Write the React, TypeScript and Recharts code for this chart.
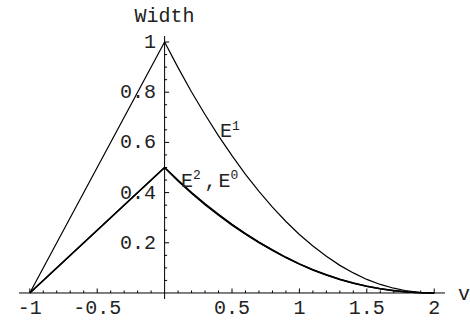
import React from 'react';
import { LineChart, Line, XAxis, YAxis, ReferenceLine, ReferenceDot } from 'recharts';

// sample points along v
const vValues = [-1, 0, 0.1, 0.2, 0.3, 0.4, 0.5, 0.6, 0.7, 0.8, 0.9, 1.0, 1.1, 1.2, 1.3, 1.4, 1.5, 1.6, 1.7, 1.8, 1.9, 2.0];

const e1Values = [0, 1, 0.898, 0.801, 0.711, 0.626, 0.547, 0.473, 0.405, 0.342, 0.285, 0.233, 0.187, 0.146, 0.11, 0.08, 0.054, 0.034, 0.019, 0.008, 0.002, 0];
const e2Values = [0, 0.5, 0.449, 0.4, 0.355, 0.313, 0.273, 0.236, 0.202, 0.171, 0.142, 0.116, 0.093, 0.073, 0.055, 0.04, 0.027, 0.017, 0.01, 0.004, 0.001, 0];
const e0Values = [0, 0.5, 0.447, 0.398, 0.352, 0.31, 0.271, 0.235, 0.201, 0.17, 0.141, 0.115, 0.092, 0.072, 0.054, 0.039, 0.027, 0.017, 0.009, 0.004, 0.001, 0];

const xTickLabels = ['-1', '-0.5', '0.5', '1', '1.5', '2'];
const yTickLabels = ['0.2', '0.4', '0.6', '0.8', '1'];

const data = vValues.map((v, i) => ({ v, e1: e1Values[i], e2: e2Values[i], e0: e0Values[i] }));

const xMinor = Array.from({ length: 31 }, (_, i) => Math.round((-1 + i / 10) * 10) / 10).filter(t => t !== 0);
const yMinor = Array.from({ length: 20 }, (_, i) => Math.round((i + 1) * 5) / 100);

const font = "'Liberation Mono', 'Courier New', monospace";
const textColor = '#222';

const isMajor = (t: number, labels: string[]) => labels.some(l => Number(l) === t);

const XTick = ({ cx, cy, value }: any) => {
  const major = isMajor(value, xTickLabels);
  const text = xTickLabels.find(l => Number(l) === value);
  return (
    <g>
      <line x1={cx} y1={cy} x2={cx} y2={cy - (major ? 4.5 : 2.5)} stroke="#000" strokeWidth={1} />
      {text && (
        <text x={cx} y={cy + 21} textAnchor="middle" fontFamily={font} fontSize={20} fill={textColor}>
          {text}
        </text>
      )}
    </g>
  );
};

const YTick = ({ cx, cy, value }: any) => {
  const major = isMajor(value, yTickLabels);
  const text = yTickLabels.find(l => Number(l) === value);
  return (
    <g>
      <line x1={cx} y1={cy} x2={cx + (major ? 4.5 : 2.5)} y2={cy} stroke="#000" strokeWidth={1} />
      {text && (
        <text x={cx - 8.5} y={cy + 6} textAnchor="end" fontFamily={font} fontSize={20} fill={textColor}>
          {text}
        </text>
      )}
    </g>
  );
};

const E1Label = ({ cx, cy }: any) => (
  <text x={cx} y={cy} fontFamily={font} fontSize={20} fill={textColor}>
    <tspan>E</tspan>
    <tspan dy={-7.5} fontSize={13}>1</tspan>
  </text>
);

const E20Label = ({ cx, cy }: any) => (
  <g fontFamily={font} fill={textColor}>
    <text x={cx} y={cy} fontSize={20}>E</text>
    <text x={cx + 12} y={cy - 7.5} fontSize={13}>2</text>
    <text x={cx + 23.5} y={cy} fontSize={20}>,</text>
    <text x={cx + 37.5} y={cy} fontSize={20}>E</text>
    <text x={cx + 49.5} y={cy - 7.5} fontSize={13}>0</text>
  </g>
);

const WidthTitle = ({ cx, cy }: any) => (
  <text x={cx} y={cy - 14} textAnchor="middle" fontFamily={font} fontSize={20} fill={textColor}>
    Width
  </text>
);

const VTitle = ({ cx, cy }: any) => (
  <text x={cx + 13} y={cy + 7} fontFamily={font} fontSize={20} fill={textColor}>
    v
  </text>
);

export default function App() {
  return (
    <div style={{ position: 'absolute', left: 0, top: 0, width: 470, height: 320, background: '#fff' }}>
      <LineChart width={470} height={320} data={data} margin={{ top: 36, right: 25, bottom: 21, left: 19 }}>
        <XAxis type="number" dataKey="v" domain={[-1.08, 2.08]} allowDataOverflow hide />
        <YAxis type="number" domain={[-0.024, 1.024]} allowDataOverflow hide />

        <ReferenceLine y={0} stroke="#000" strokeWidth={1} />
        <ReferenceLine x={0} stroke="#000" strokeWidth={1} />

        {xMinor.map(t => (
          <ReferenceDot key={`x${t}`} x={t} y={0} r={0} ifOverflow="visible" shape={(p: any) => <XTick {...p} value={t} />} />
        ))}
        {yMinor.map(t => (
          <ReferenceDot key={`y${t}`} x={0} y={t} r={0} ifOverflow="visible" shape={(p: any) => <YTick {...p} value={t} />} />
        ))}

        <ReferenceDot x={0} y={1.024} r={0} ifOverflow="visible" shape={(p: any) => <WidthTitle {...p} />} />
        <ReferenceDot x={2.08} y={0} r={0} ifOverflow="visible" shape={(p: any) => <VTitle {...p} />} />
        <ReferenceDot x={0.411} y={0.6215} r={0} ifOverflow="visible" shape={(p: any) => <E1Label {...p} />} />
        <ReferenceDot x={0.122} y={0.4235} r={0} ifOverflow="visible" shape={(p: any) => <E20Label {...p} />} />

        <Line type="linear" dataKey="e1" stroke="#000" strokeWidth={1.2} dot={false} activeDot={false} isAnimationActive={false} />
        <Line type="linear" dataKey="e2" stroke="#000" strokeWidth={1.6} dot={false} activeDot={false} isAnimationActive={false} />
        <Line type="linear" dataKey="e0" stroke="#000" strokeWidth={1.6} dot={false} activeDot={false} isAnimationActive={false} />
      </LineChart>
    </div>
  );
}
